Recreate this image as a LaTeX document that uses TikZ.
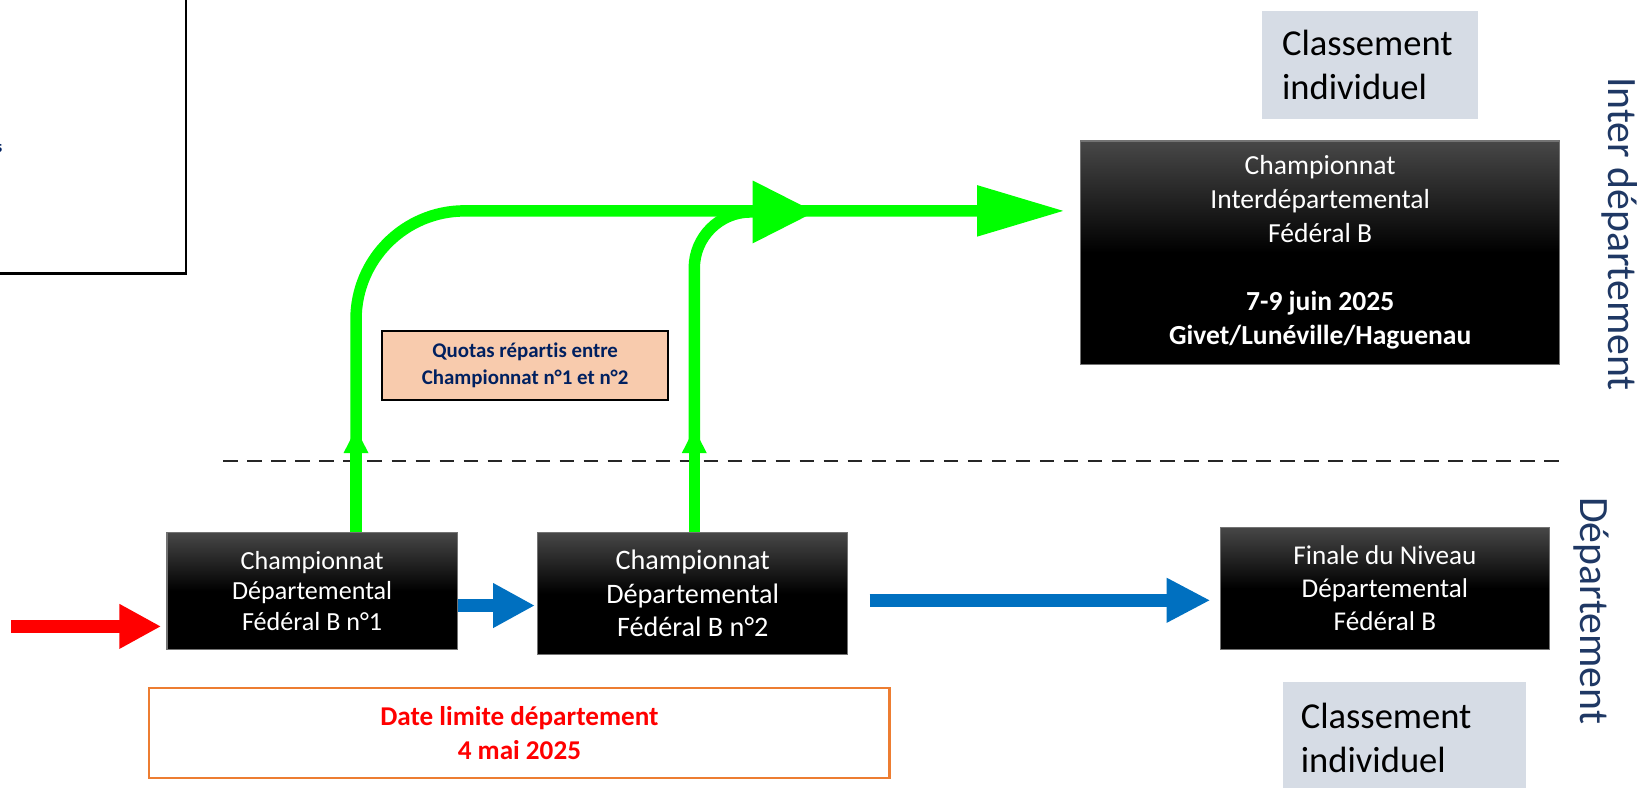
\documentclass[tikz,border=0pt]{standalone}
\usepackage{fontspec}
\setmainfont{Carlito}[Ligatures=NoCommon]
\usetikzlibrary{arrows.meta,calc}
\definecolor{grn}{HTML}{00FF00}
\definecolor{blu}{HTML}{0070C0}
\definecolor{peach}{HTML}{F8CBAD}
\definecolor{navy}{HTML}{002060}
\definecolor{navyb}{HTML}{1F3864}
\definecolor{orng}{HTML}{ED7D31}
\definecolor{graybox}{HTML}{D6DCE5}
\begin{document}
\begin{tikzpicture}[x=0.5pt,y=-0.5pt,
  blackbox/.style={draw=black!55, line width=0.6pt, top color=black!72, bottom color=black, middle color=black, text=white, align=center, inner sep=0pt},
  classbox/.style={fill=graybox, align=left, inner ysep=0pt, anchor=center},
  garrow/.style={draw=grn, line width=5.5pt},
  barrow/.style={draw=blu, line width=6.5pt, -{Triangle[length=20pt,width=20pt]}},
  vlabel/.style={rotate=-90, text=navyb, font=\fontsize{20}{24}\selectfont, inner sep=0pt}
]
\useasboundingbox (0,0) rectangle (1568,754);

% top-left box (cut off)
\draw[line width=1.2pt] (-10,-10) rectangle (178,262);
\node[text=navy, font=\bfseries\fontsize{8}{9}\selectfont, anchor=east, inner sep=0pt] (frag) at (2.5,142) {s};

% classement boxes
\node[classbox, minimum width=103.5pt, minimum height=51.5pt, text width=84.5pt, inner xsep=9.5pt,
      font=\fontsize{17.5}{21}\selectfont] (cl1) at (1312.5,62.5) {Classement\\individuel};
\node[classbox, minimum width=116.5pt, minimum height=54pt, text width=99.5pt, inner xsep=8.5pt,
      font=\fontsize{17.5}{21}\selectfont] (cl2) at (1345.5,707) {Classement\\individuel};

% black boxes
\node[blackbox, minimum width=139pt, minimum height=56pt, font=\fontsize{12.5}{14.75}\selectfont]
  (b1) at (299,566) {Championnat\\Départemental\\Fédéral B n°1};
\node[blackbox, minimum width=148.5pt, minimum height=58.5pt, font=\fontsize{13.5}{16}\selectfont]
  (b2) at (663.5,568.5) {Championnat\\Départemental\\Fédéral B n°2};
\node[blackbox, minimum width=229.5pt, minimum height=107pt, font=\fontsize{13.2}{16.3}\selectfont]
  (ib) at (1264.5,242) {Championnat\\Interdépartemental\\Fédéral B\\[16.3pt]\textbf{7-9 juin 2025}\\\textbf{Givet/Lunéville/Haguenau}};
\node[blackbox, minimum width=157.5pt, minimum height=58.5pt, font=\fontsize{13}{15.75}\selectfont]
  (fin) at (1326.5,563.5) {Finale du Niveau\\Départemental\\Fédéral B};

% quotas box
\node[draw=black, line width=1.1pt, fill=peach, minimum width=137pt, minimum height=33pt, align=center,
      text=navy, font=\bfseries\fontsize{10}{13}\selectfont, inner sep=0pt]
  (q) at (503,350) {Quotas répartis entre\\Championnat n°1 et n°2};

% date box
\node[draw=orng, line width=1.1pt, fill=white, minimum width=354.5pt, minimum height=43pt, align=center,
      text=red, font=\bfseries\fontsize{13}{16}\selectfont, inner sep=0pt]
  (d) at (497.5,702) {Date limite département\\4 mai 2025};

% dashed separator
\coordinate (ds) at (214,442);
\coordinate (de) at (1494,442);
\draw[black!85, line width=1pt, dash pattern=on 7pt off 4.5pt] (ds) -- (de);

% vertical labels
\node[vlabel] (lab1) at (1551,224) {Inter département};
\node[vlabel] (lab2) at (1524,585) {Département};

% red arrow
\coordinate (r0) at (11,600);
\draw[draw=red, line width=6.5pt, -{Triangle[length=20pt,width=20pt]}] (r0) -- ($(b1.west |- r0)+(-5,0)$);

% blue arrows
\coordinate (bl1) at (470,580);
\draw[barrow] (b1.east |- bl1) -- ($(b2.west |- bl1)+(-2,0)$);
\coordinate (bl2) at (833,575);
\draw[barrow, -{Triangle[length=21pt,width=20pt]}] (bl2) -- ($(fin.west |- bl2)+(-9,0)$);

% green arrows
\coordinate (g1) at (341,410);
\coordinate (g1s) at (341,432);
\coordinate (c1) at (341,202);
\coordinate (e1) at (1020,202);
\coordinate (g2) at (665,410);
\coordinate (g2s) at (665,432);
\coordinate (c2) at (665,203);
\coordinate (e2) at (781,203);
\draw[garrow, -{Triangle[length=12pt,width=11pt]}] (g1 |- b1.north) -- (g1);
\draw[garrow, -{Triangle[length=12pt,width=11pt]}] (g2 |- b2.north) -- (g2);
\draw[garrow, rounded corners=52pt, -{Triangle[length=42pt,width=23pt]}] (g1s) -- (c1) -- (e1);
\draw[garrow, rounded corners=27pt, -{Triangle[length=30pt,width=28.5pt]}] (g2s) -- (c2) -- (e2);
\end{tikzpicture}
\end{document}
